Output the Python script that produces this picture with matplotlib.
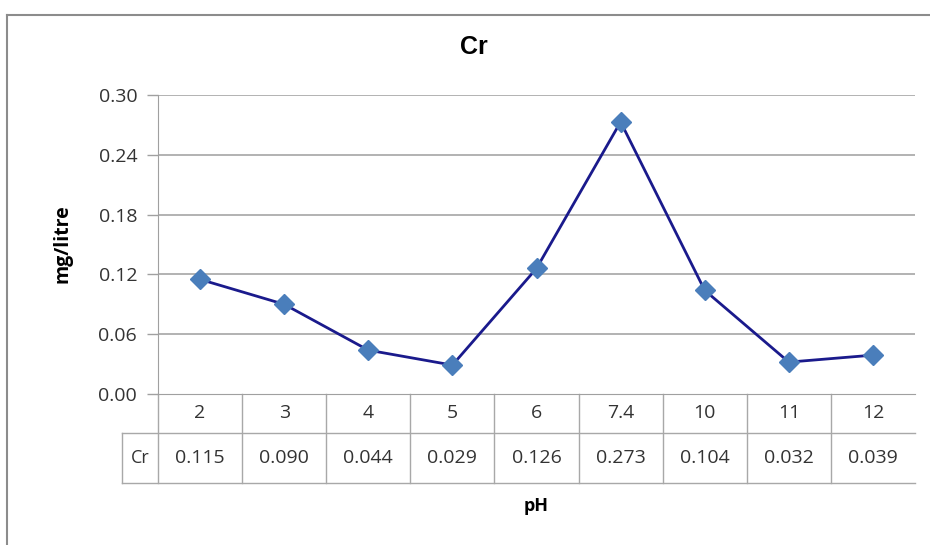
import matplotlib
matplotlib.use('Agg')
import matplotlib.pyplot as plt
from matplotlib.lines import Line2D

ph_labels = ['2', '3', '4', '5', '6', '7.4', '10', '11', '12']
cr_values = [0.115, 0.090, 0.044, 0.029, 0.126, 0.273, 0.104, 0.032, 0.039]
y_ticks = [0.00, 0.06, 0.12, 0.18, 0.24, 0.30]

plt.rcParams['font.family'] = ['Open Sans', 'DejaVu Sans']

W, H = 930, 545
fig = plt.figure(figsize=(9.3, 5.45), dpi=100)
# plot area in pixel coords: x 158..915, y 95..394
ax = fig.add_axes([158 / W, 1 - 394 / H, (915 - 158) / W, (394 - 95) / H])

n = len(cr_values)
x = [i + 0.5 for i in range(n)]
ax.plot(x, cr_values, color='#1a1a8c', lw=2, zorder=3)
ax.plot(x, cr_values, ls='none', marker='D', ms=10, color='#4a7ebb', zorder=4)

ax.set_xlim(0, n)
ax.set_ylim(0, 0.30)
ax.set_yticks(y_ticks)
ax.set_yticklabels(['%.2f' % v for v in y_ticks], fontsize=14, color='#333333')
ax.tick_params(axis='y', length=8, width=1, color='#a0a0a0', pad=7)
ax.set_xticks([])
for v in y_ticks[1:]:
    ax.axhline(v, color='#a6a6a6', lw=1.2, zorder=1)
for s in ['top', 'right']:
    ax.spines[s].set_visible(False)
ax.spines['left'].set_color('#a0a0a0')
ax.spines['bottom'].set_color('#a0a0a0')

# data table below the axis
h_ax = 394 - 95
w_ax = 915 - 158
r1 = -39 / h_ax
r2 = -89 / h_ax
cl = -36 / w_ax
gcol = '#a8a8a8'
def hline(y, x0, x1):
    ax.add_line(Line2D([x0, x1], [y, y], transform=ax.transAxes, color=gcol, lw=1, clip_on=False))
def vline(xx, y0, y1):
    ax.add_line(Line2D([xx, xx], [y0, y1], transform=ax.transAxes, color=gcol, lw=1, clip_on=False))

hline(r1, cl, 1)
hline(r2, cl, 1)
vline(0, r2, 0)
vline(cl, r2, r1)
for i in range(1, n):
    vline(i / n, r2, 0)

for i, (lab, v) in enumerate(zip(ph_labels, cr_values)):
    xc = (i + 0.5) / n
    ax.text(xc, r1 / 2, lab, transform=ax.transAxes, ha='center', va='center',
            fontsize=14, color='#333333')
    ax.text(xc, (r1 + r2) / 2, '%.3f' % v, transform=ax.transAxes, ha='center',
            va='center', fontsize=14, color='#333333')
ax.text(cl / 2, (r1 + r2) / 2, 'Cr', transform=ax.transAxes, ha='center', va='center',
        fontsize=13, color='#333333')

fig.text(474 / W, 1 - 47 / H, 'Cr', ha='center', va='center', fontsize=18,
         fontweight='bold', family='Liberation Sans')
fig.text(536 / W, 1 - 506 / H, 'pH', ha='center', va='center', fontsize=13, fontweight='bold')
fig.text(62 / W, 1 - 244 / H, 'mg/litre', ha='center', va='center', rotation=90,
         fontsize=14, fontweight='bold')

# outer chart frame
fig.add_artist(Line2D([7 / W, 1], [1 - 15 / H, 1 - 15 / H], transform=fig.transFigure, color='#8c8c8c', lw=1.5))
fig.add_artist(Line2D([7 / W, 7 / W], [0, 1 - 15 / H], transform=fig.transFigure, color='#8c8c8c', lw=1.5))

fig.savefig('out.png', dpi=100)
